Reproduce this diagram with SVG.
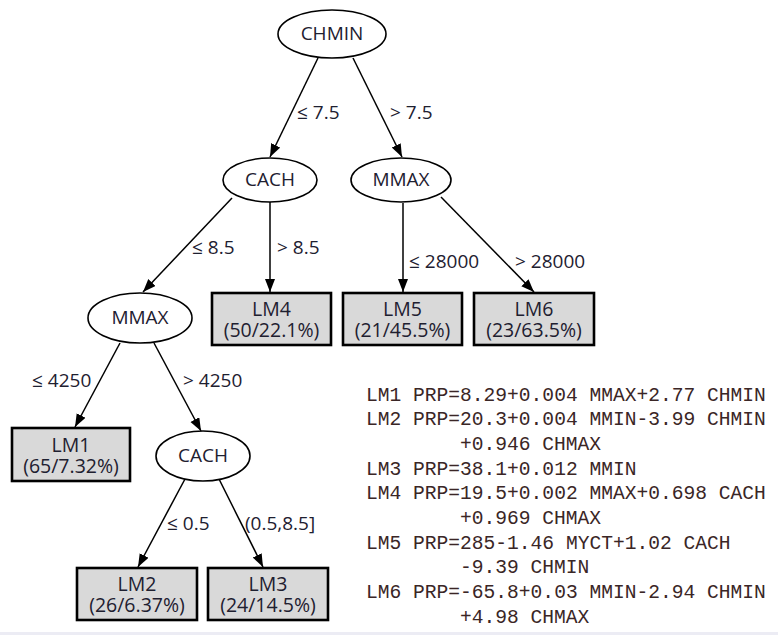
<svg xmlns="http://www.w3.org/2000/svg" width="778" height="635" viewBox="0 0 778 635">
<style>
.ell{fill:#fff;stroke:#000;stroke-width:1.6}
.box{fill:#d9d9d9;stroke:#000;stroke-width:2.6}
.t{font-family:"Open Sans","Noto Sans","DejaVu Sans",sans-serif;font-size:19px;fill:#1e2030;text-anchor:middle}
.bt{font-family:"Open Sans","Noto Sans","DejaVu Sans",sans-serif;font-size:19.5px;fill:#1e2030;text-anchor:middle}
.lbl{font-family:"Open Sans","Noto Sans","DejaVu Sans",sans-serif;font-size:19px;fill:#1e2030}
.edge{stroke:#000;stroke-width:1.5;fill:none;marker-end:url(#arr)}
.mono{font-family:"Liberation Mono","Courier New",monospace;font-size:19.6px;fill:#3a2626}
</style>
<defs>
<marker id="arr" markerUnits="userSpaceOnUse" markerWidth="14" markerHeight="12" refX="13" refY="5" orient="auto">
<path d="M0,0 L13,5 L0,10 z" fill="#000"/>
</marker>
</defs>
<rect x="0" y="0" width="778" height="635" fill="#fff"/>
<rect x="0" y="632" width="778" height="3" fill="#ececf4"/>
<g id="connectors">
<line class="edge" x1="318" y1="58" x2="270" y2="157"/>
<line class="edge" x1="353" y1="58" x2="402" y2="157"/>
<line class="edge" x1="232" y1="198" x2="143" y2="292"/>
<line class="edge" x1="270" y1="202" x2="270" y2="292"/>
<line class="edge" x1="403" y1="203" x2="403" y2="292"/>
<line class="edge" x1="441" y1="197" x2="534" y2="292"/>
<line class="edge" x1="120" y1="343" x2="75" y2="427"/>
<line class="edge" x1="154" y1="343" x2="201" y2="431"/>
<line class="edge" x1="185" y1="479" x2="138" y2="567"/>
<line class="edge" x1="219" y1="479" x2="263" y2="567"/>
<text class="lbl" x="297" y="119">≤ 7.5</text>
<text class="lbl" x="390" y="119">&gt; 7.5</text>
<text class="lbl" x="192" y="254">≤ 8.5</text>
<text class="lbl" x="277" y="254">&gt; 8.5</text>
<text class="lbl" x="409" y="268">≤ 28000</text>
<text class="lbl" x="515" y="268">&gt; 28000</text>
<text class="lbl" x="32" y="387">≤ 4250</text>
<text class="lbl" x="183" y="387">&gt; 4250</text>
<text class="lbl" x="167" y="530">≤ 0.5</text>
<text class="lbl" x="245" y="530">(0.5,8.5]</text>
</g>
<g id="n_chmin"><ellipse class="ell" cx="332" cy="34" rx="54" ry="24"/><text class="t" x="332" y="40">CHMIN</text></g>
<g id="n_cach1"><ellipse class="ell" cx="270" cy="180" rx="47" ry="22"/><text class="t" x="270" y="186">CACH</text></g>
<g id="n_mmax1"><ellipse class="ell" cx="401" cy="180" rx="50" ry="22"/><text class="t" x="401" y="186">MMAX</text></g>
<g id="n_mmax2"><ellipse class="ell" cx="140" cy="318" rx="52" ry="25"/><text class="t" x="140" y="324">MMAX</text></g>
<g id="n_cach2"><ellipse class="ell" cx="203" cy="456" rx="47" ry="25"/><text class="t" x="203" y="462">CACH</text></g>
<g id="n_lm4"><rect class="box" x="212" y="293" width="119" height="52"/><text class="bt" x="271.5" y="316">LM4</text><text class="bt" x="271.5" y="337">(50/22.1%)</text></g>
<g id="n_lm5"><rect class="box" x="343" y="293" width="119" height="52"/><text class="bt" x="402.5" y="316">LM5</text><text class="bt" x="402.5" y="337">(21/45.5%)</text></g>
<g id="n_lm6"><rect class="box" x="474" y="293" width="120" height="52"/><text class="bt" x="534" y="316">LM6</text><text class="bt" x="534" y="337">(23/63.5%)</text></g>
<g id="n_lm1"><rect class="box" x="12" y="428" width="118" height="53"/><text class="bt" x="71" y="452">LM1</text><text class="bt" x="71" y="473">(65/7.32%)</text></g>
<g id="n_lm2"><rect class="box" x="77" y="568" width="120" height="52"/><text class="bt" x="137" y="591">LM2</text><text class="bt" x="137" y="612">(26/6.37%)</text></g>
<g id="n_lm3"><rect class="box" x="208" y="568" width="120" height="52"/><text class="bt" x="268" y="591">LM3</text><text class="bt" x="268" y="612">(24/14.5%)</text></g>
<g id="equations">
<text class="mono" x="366" y="400.5">LM1 PRP=8.29+0.004 MMAX+2.77 CHMIN</text>
<text class="mono" x="366" y="425.2">LM2 PRP=20.3+0.004 MMIN-3.99 CHMIN</text>
<text class="mono" x="460" y="449.8">+0.946 CHMAX</text>
<text class="mono" x="366" y="474.5">LM3 PRP=38.1+0.012 MMIN</text>
<text class="mono" x="366" y="499.2">LM4 PRP=19.5+0.002 MMAX+0.698 CACH</text>
<text class="mono" x="460" y="523.8">+0.969 CHMAX</text>
<text class="mono" x="366" y="548.5">LM5 PRP=285-1.46 MYCT+1.02 CACH</text>
<text class="mono" x="460" y="573.2">-9.39 CHMIN</text>
<text class="mono" x="366" y="597.8">LM6 PRP=-65.8+0.03 MMIN-2.94 CHMIN</text>
<text class="mono" x="460" y="622.5">+4.98 CHMAX</text>
</g>
</svg>
